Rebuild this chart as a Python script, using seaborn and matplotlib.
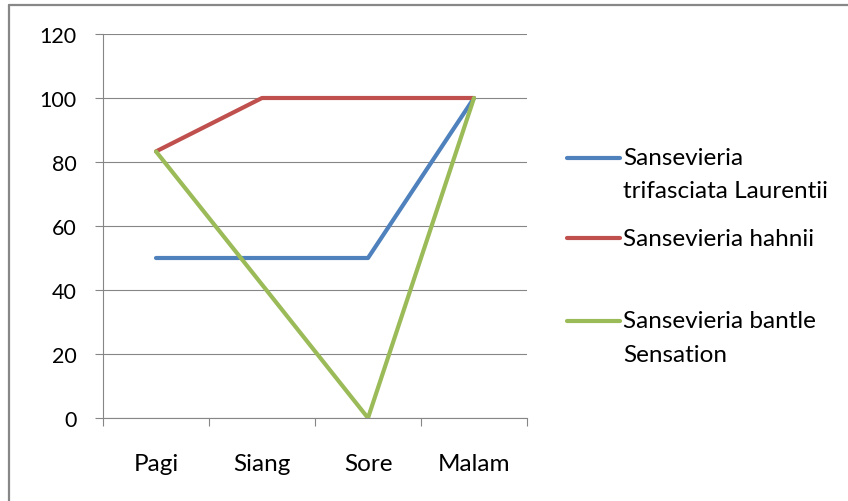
import numpy as np
import pandas as pd
import matplotlib.pyplot as plt
import seaborn as sns
from matplotlib.lines import Line2D

# data
categories = ['Pagi', 'Siang', 'Sore', 'Malam']
laurentii = [50, 50, 50, 100]
hahnii = [83.3, 100, 100, 100]
bantle = [83.3, 41.7, 0, 100]
series_names = ['Sansevieria\ntrifasciata Laurentii',
                'Sansevieria hahnii',
                'Sansevieria bantle\nSensation']
colors = ['#4F81BD', '#C0504D', '#9BBB59']
yticks = [0, 20, 40, 60, 80, 100, 120]

df = pd.DataFrame({
    'waktu': categories * 3,
    'nilai': laurentii + hahnii + bantle,
    'jenis': np.repeat(series_names, len(categories)),
})

sns.set_style('white')
plt.rcParams['font.family'] = ['Lato', 'DejaVu Sans']
plt.rcParams['text.color'] = 'black'
plt.rcParams['xtick.color'] = 'black'
plt.rcParams['ytick.color'] = 'black'
fs = 17.5      # category labels / legend
fs_num = 15.5  # numbers on y axis

W, H = 848, 502
fig = plt.figure(figsize=(W / 100, H / 100), dpi=100)
ax = fig.add_axes([103 / W, 1 - 419 / H, 424 / W, 384 / H])

sns.lineplot(data=df, x='waktu', y='nilai', hue='jenis', hue_order=series_names,
             palette=colors, sort=False, lw=3, legend=False, ax=ax,
             solid_capstyle='round', solid_joinstyle='round')

grey = '#868686'
ax.set_xlim(-0.5, 3.5)
ax.set_ylim(0, 120)
ax.set_yticks(yticks)
ax.set_xticks(range(len(categories)))
ax.set_xticklabels(categories)
ax.set_xticks(np.arange(-0.5, len(categories), 1), minor=True)
ax.yaxis.grid(True, color=grey, lw=0.8)
ax.xaxis.grid(False)
ax.set_axisbelow(True)
ax.set_xlabel('')
ax.set_ylabel('')
ax.tick_params(axis='x', which='major', bottom=True, length=0, pad=25, labelsize=fs)
ax.tick_params(axis='x', which='minor', bottom=True, length=6, width=0.8,
               color=grey, direction='out')
ax.tick_params(axis='y', left=True, length=6, width=0.8, color=grey,
               direction='out', pad=13, labelsize=fs_num)
for s in ['top', 'right']:
    ax.spines[s].set_visible(False)
for s in ['left', 'bottom']:
    ax.spines[s].set_color(grey)
    ax.spines[s].set_linewidth(0.8)

# legend, Excel style (handle next to first line of text)
leg_y = [159, 239, 322]
for name, c, y in zip(series_names, colors, leg_y):
    fig.add_artist(Line2D([567 / W, 620 / W], [1 - y / H, 1 - y / H],
                          transform=fig.transFigure, color=c, lw=3,
                          solid_capstyle='round'))
    for i, line in enumerate(name.split('\n')):
        fig.text(623 / W, 1 - (y + 33 * i) / H, line, va='center', ha='left',
                 fontsize=fs)

# outer chart border
fig.add_artist(Line2D([9 / W, 9 / W], [0, 1 - 6 / H], transform=fig.transFigure,
                      color='#878787', lw=1.6))
fig.add_artist(Line2D([9 / W, 1], [1 - 6 / H, 1 - 6 / H], transform=fig.transFigure,
                      color='#878787', lw=1.6))

fig.savefig('out.png', dpi=100)
